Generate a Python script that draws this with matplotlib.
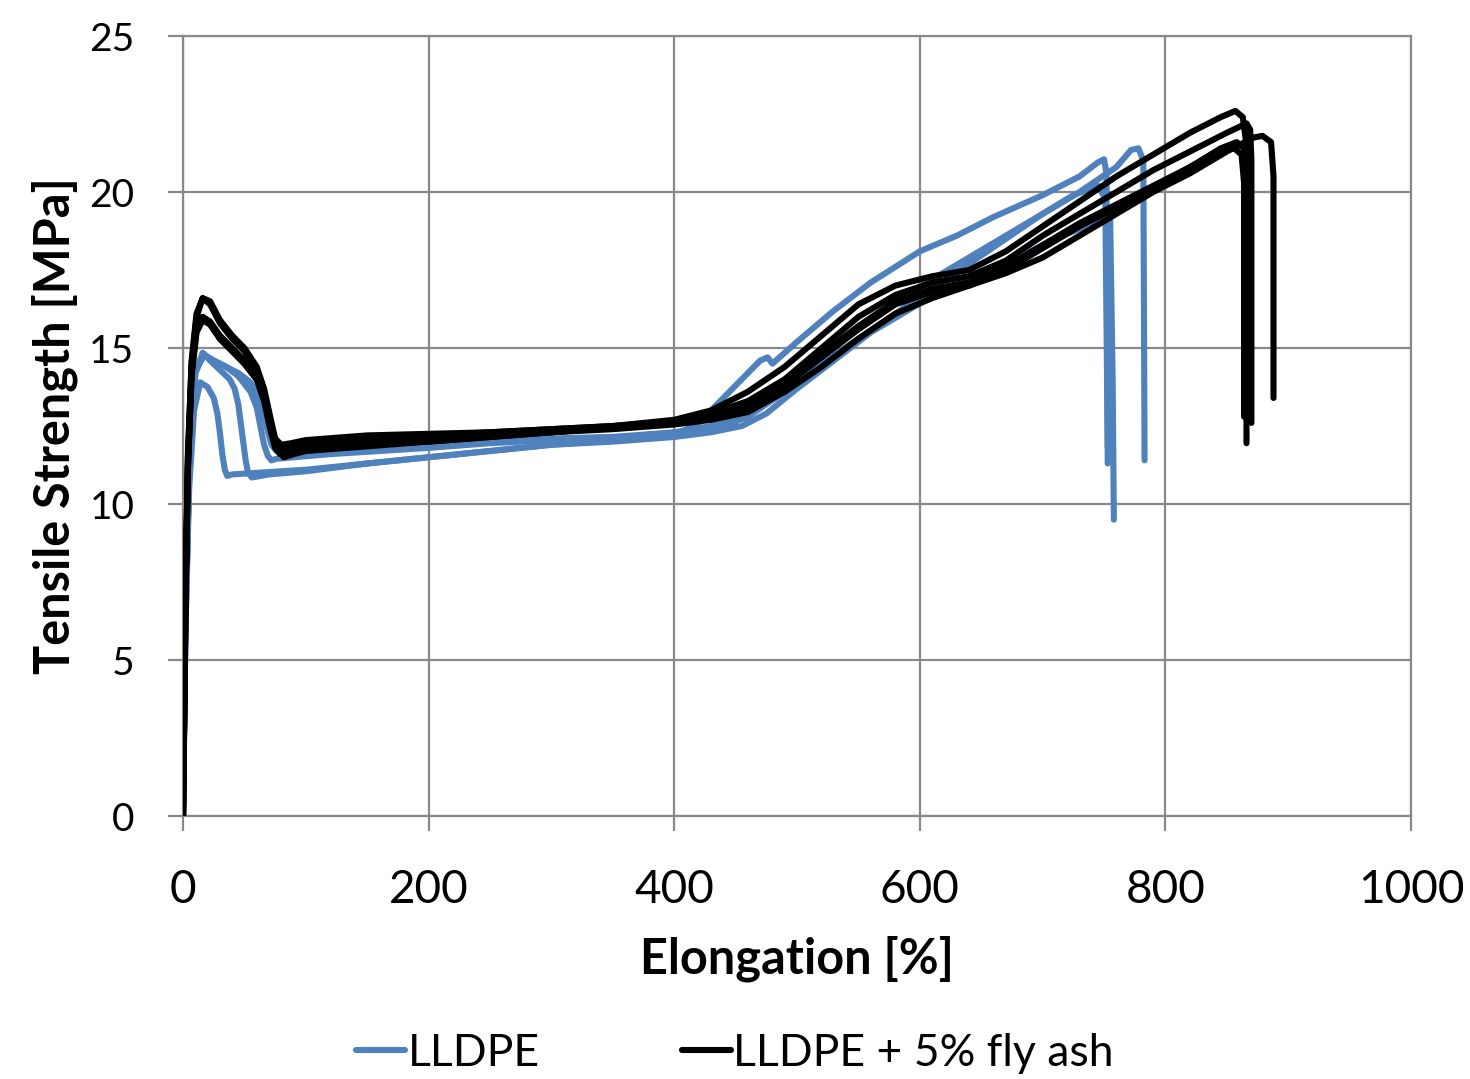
import matplotlib.pyplot as plt

# tensile curves, LLDPE (blue)
lldpe_x = [
    [0, 2, 5, 9, 14, 20, 25, 28, 30, 32, 34, 36, 40, 60, 100, 150, 200, 250, 300, 350, 400, 430, 455, 475, 500, 530,
     560, 590, 620, 650, 680, 710, 735, 750, 755, 757, 758],
    [0, 2, 5, 10, 16, 22, 30, 38, 42, 45, 48, 51, 53, 56, 70, 100, 150, 200, 250, 300, 350, 400, 420, 440, 460, 470,
     476, 480, 500, 530, 560, 600, 630, 660, 700, 730, 745, 750, 752, 753],
    [0, 2, 5, 10, 17, 25, 35, 45, 55, 60, 63, 66, 69, 72, 76, 90, 120, 160, 200, 250, 300, 350, 400, 430, 460, 490,
     520, 550, 580, 610, 640, 670, 700, 730, 760, 772, 778, 782, 783],
    [0, 2, 5, 10, 17, 25, 35, 45, 55, 63, 68, 72, 76, 90, 120, 160, 200, 250, 300, 350, 400, 430, 460, 490, 520,
     550, 580, 610, 640, 670, 700, 725, 745, 751, 753],
]
lldpe_y = [
    [0, 6.0, 10.5, 13.0, 13.9, 13.75, 13.4, 12.9, 12.3, 11.6, 11.1, 10.9, 10.95, 11.0, 11.1, 11.3, 11.5, 11.7, 11.9,
     12.0, 12.15, 12.3, 12.5, 12.9, 13.7, 14.6, 15.5, 16.2, 16.9, 17.4, 17.9, 18.5, 18.9, 19.2, 19.1, 14.0, 9.5],
    [0, 6.5, 11.0, 14.2, 14.85, 14.6, 14.3, 14.0, 13.7, 13.2, 12.3, 11.4, 11.0, 10.85, 10.95, 11.05, 11.3, 11.5,
     11.7, 11.9, 12.05, 12.2, 12.6, 13.4, 14.2, 14.6, 14.7, 14.5, 15.2, 16.2, 17.1, 18.1, 18.6, 19.2, 19.9, 20.5,
     20.95, 21.05, 20.6, 11.3],
    [0, 6.0, 11.0, 14.2, 14.8, 14.6, 14.4, 14.1, 13.6, 13.1, 12.5, 11.9, 11.55, 11.4, 11.45, 11.5, 11.6, 11.7, 11.8,
     11.95, 12.05, 12.15, 12.3, 12.5, 13.0, 13.8, 14.8, 15.7, 16.5, 17.2, 17.9, 18.6, 19.3, 20.0, 20.8, 21.35, 21.4,
     21.0, 11.4],
    [0, 6.2, 11.2, 14.3, 14.75, 14.6, 14.4, 14.2, 13.9, 13.3, 12.5, 11.9, 11.7, 11.75, 11.85, 11.95, 12.0, 12.05,
     12.1, 12.15, 12.2, 12.35, 12.8, 13.6, 14.5, 15.3, 16.1, 16.9, 17.7, 18.5, 19.3, 19.9, 20.2, 19.8, 11.8],
]

# tensile curves, LLDPE + 5% fly ash (black)
ash_x = [
    [0, 2, 4, 7, 11, 16, 22, 30, 40, 50, 60, 66, 70, 74, 78, 85, 100, 150, 200, 250, 300, 350, 400, 430, 460, 490,
     520, 550, 580, 610, 640, 670, 700, 730, 760, 790, 820, 845, 857, 863, 866, 866],
    [0, 2, 4, 7, 11, 16, 22, 30, 40, 50, 60, 66, 71, 75, 80, 88, 100, 150, 200, 250, 300, 350, 400, 430, 460, 490,
     520, 550, 580, 610, 640, 670, 700, 730, 760, 790, 820, 850, 866, 869, 870, 870],
    [0, 2, 4, 7, 11, 16, 22, 30, 40, 50, 60, 67, 72, 77, 82, 90, 100, 150, 200, 250, 300, 350, 400, 430, 460, 490,
     520, 550, 580, 610, 640, 670, 700, 730, 760, 790, 820, 850, 872, 879, 886, 888, 888],
    [0, 2, 4, 7, 11, 16, 22, 30, 40, 50, 60, 67, 72, 76, 80, 88, 100, 150, 200, 250, 300, 350, 400, 430, 460, 490,
     520, 550, 580, 610, 640, 670, 700, 730, 760, 790, 820, 845, 858, 864, 867, 867],
    [0, 2, 4, 7, 11, 16, 22, 30, 40, 50, 60, 66, 71, 75, 79, 86, 100, 150, 200, 250, 300, 350, 400, 430, 460, 490,
     520, 550, 580, 610, 640, 670, 700, 730, 760, 790, 820, 845, 856, 862, 864, 864],
]
ash_y = [
    [0, 7.0, 11.5, 14.5, 16.0, 16.6, 16.4, 15.8, 15.3, 14.9, 14.3, 13.6, 12.7, 12.0, 11.7, 11.8, 12.0, 12.1, 12.2,
     12.3, 12.4, 12.5, 12.7, 13.0, 13.6, 14.4, 15.4, 16.4, 17.0, 17.3, 17.5, 18.1, 18.9, 19.7, 20.5, 21.2, 21.9,
     22.4, 22.6, 22.4, 21.5, 11.95],
    [0, 7.0, 11.6, 14.6, 16.1, 16.6, 16.5, 15.9, 15.4, 15.0, 14.4, 13.7, 12.8, 12.1, 11.9, 11.95, 12.05, 12.2,
     12.25, 12.3, 12.4, 12.5, 12.65, 12.9, 13.3, 14.0, 15.0, 16.0, 16.7, 17.1, 17.3, 17.8, 18.6, 19.3, 20.0, 20.7,
     21.3, 21.9, 22.2, 22.0, 21.0, 12.6],
    [0, 6.8, 11.2, 14.2, 15.6, 16.0, 15.8, 15.3, 14.9, 14.5, 14.0, 13.3, 12.4, 11.8, 11.5, 11.6, 11.7, 11.85, 12.0,
     12.15, 12.3, 12.4, 12.55, 12.7, 12.95, 13.6, 14.4, 15.3, 16.1, 16.6, 17.0, 17.4, 17.9, 18.6, 19.3, 20.0, 20.6,
     21.3, 21.75, 21.8, 21.6, 20.5, 13.4],
    [0, 6.8, 11.3, 14.3, 15.7, 16.0, 15.85, 15.4, 15.0, 14.6, 14.1, 13.4, 12.5, 11.9, 11.7, 11.75, 11.85, 11.95,
     12.05, 12.2, 12.3, 12.45, 12.6, 12.8, 13.1, 13.8, 14.7, 15.6, 16.4, 16.8, 17.0, 17.5, 18.2, 18.9, 19.5, 20.1,
     20.8, 21.4, 21.6, 21.4, 20.6, 13.3],
    [0, 6.7, 11.1, 14.1, 15.5, 15.9, 15.75, 15.3, 14.9, 14.5, 14.0, 13.3, 12.4, 11.8, 11.6, 11.65, 11.75, 11.9,
     12.0, 12.15, 12.3, 12.45, 12.6, 12.8, 13.2, 13.9, 14.8, 15.7, 16.5, 16.9, 17.1, 17.6, 18.3, 19.0, 19.6, 20.2,
     20.8, 21.3, 21.4, 21.2, 20.3, 12.8],
]

x_ticks = [0, 200, 400, 600, 800, 1000]
y_ticks = [0, 5, 10, 15, 20, 25]

blue = '#4F81BD'
grid_col = '#898989'

plt.rcParams['font.family'] = ['Lato', 'DejaVu Sans']

fig = plt.figure(figsize=(14.7, 10.79), dpi=100)
ax = fig.add_axes([0.1245, 0.2437, 0.8354, 0.7229])

for i, (xs, ys) in enumerate(zip(lldpe_x, lldpe_y)):
    ax.plot(xs, ys, color=blue, lw=4.4, solid_capstyle='round', solid_joinstyle='round',
            label='LLDPE' if i == 0 else None, zorder=2)
for i, (xs, ys) in enumerate(zip(ash_x, ash_y)):
    ax.plot(xs, ys, color='black', lw=4.4, solid_capstyle='round', solid_joinstyle='round',
            label='LLDPE + 5% fly ash' if i == 0 else None, zorder=3)

ax.set_xlim(0, 1000)
ax.set_ylim(0, 25)
ax.set_xticks(x_ticks)
ax.set_yticks(y_ticks)
ax.grid(True, color=grid_col, lw=1.6)
ax.set_axisbelow(True)
for s in ax.spines.values():
    s.set_color(grid_col)
    s.set_linewidth(1.6)
ax.tick_params(axis='both', colors=grid_col, length=11, width=1.6, labelcolor='black')
ax.tick_params(axis='x', labelsize=33, pad=27)
ax.tick_params(axis='y', labelsize=28, pad=24)

ax.set_xlabel('Elongation [%]', fontsize=35, fontweight='bold', labelpad=18)
ax.set_ylabel('Tensile Strength [MPa]', fontsize=35, fontweight='bold', labelpad=8)

fig.legend(loc='lower center', bbox_to_anchor=(0.500, -0.032), ncol=2, frameon=False, fontsize=32,
           handlelength=1.1, handletextpad=0.05, columnspacing=3.2)

fig.savefig('out.png', dpi=100)
